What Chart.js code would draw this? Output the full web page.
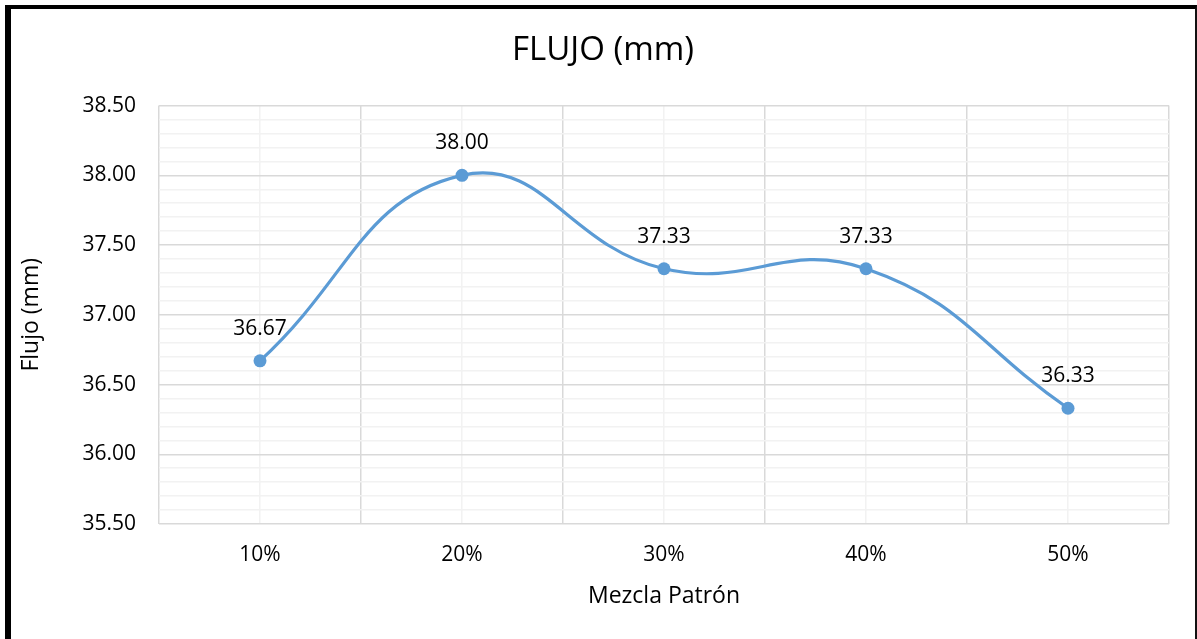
<!DOCTYPE html>
<html lang="es">
<head>
  <meta charset="UTF-8">
  <title>Flujo (mm)</title>
  <script src="https://cdn.jsdelivr.net/npm/chart.js@4.4.1/dist/chart.umd.min.js"></script>
  <style>
    html, body { margin: 0; padding: 0; background: #fff; }
    .wrap { position: relative; width: 1197px; height: 639px; overflow: hidden; }
    .frame {
      position: absolute; left: 5px; top: 5px; width: 1192px; height: 660px;
      box-sizing: border-box; pointer-events: none;
      border-left: 6px solid #000; border-top: 4px solid #000; border-right: 2px solid #111;
    }
  </style>
</head>
<body>
  <div class="wrap">
    <canvas id="flujo" width="1197" height="639"></canvas>
    <div class="frame"></div>
  </div>

<script>
const mezclas = ["10%", "20%", "30%", "40%", "50%"];
const flujo = [36.67, 38.00, 37.33, 37.33, 36.33];
const yMin = 35.5;
const yMax = 38.5;

const FONT = "'Open Sans', sans-serif";
const LINE = "#5b9bd5";

const isMajor = v => Math.abs(v * 2 - Math.round(v * 2)) < 1e-6;

// value labels above each point
const pointLabels = {
  id: "pointLabels",
  afterDatasetsDraw(chart) {
    const ctx = chart.ctx;
    const meta = chart.getDatasetMeta(0);
    ctx.save();
    ctx.font = "21px " + FONT;
    ctx.fillStyle = "#000";
    ctx.textAlign = "center";
    ctx.textBaseline = "middle";
    meta.data.forEach((pt, i) => {
      ctx.fillText(flujo[i].toFixed(2), pt.x, pt.y - 32);
    });
    ctx.restore();
  }
};

new Chart("flujo", {
  type: "line",
  data: {
    labels: mezclas,
    datasets: [{
      data: flujo,
      borderColor: LINE,
      backgroundColor: LINE,
      borderWidth: 3.2,
      pointRadius: 6.5,
      pointBorderWidth: 0,
      tension: 0.45,
      fill: false
    }]
  },
  options: {
    responsive: false,
    animation: false,
    layout: { padding: { left: 9, right: 0, top: 0, bottom: 0 } },
    plugins: {
      legend: { display: false },
      tooltip: { enabled: false },
      title: {
        display: true,
        text: "FLUJO (mm)",
        color: "#000",
        font: { family: FONT, size: 33, weight: "normal" },
        padding: { top: 31, bottom: 35 }
      }
    },
    scales: {
      x: {
        offset: true,
        afterFit: s => { s.height = 115; },
        grid: { offset: true, color: "#d9d9d9", lineWidth: 1.5, drawTicks: false },
        border: { display: false },
        ticks: { color: "#000", font: { family: FONT, size: 21 }, padding: 18 },
        title: {
          display: true,
          text: "Mezcla Patrón",
          color: "#000",
          font: { family: FONT, size: 23 },
          padding: { top: 0, bottom: 29 }
        }
      },
      // lighter lines through the category centres
      x2: {
        type: "category",
        labels: mezclas,
        offset: true,
        position: "bottom",
        afterFit: s => { s.height = 0; },
        grid: { offset: false, color: "#f2f2f2", lineWidth: 1.5, drawTicks: false, z: -1 },
        border: { display: false },
        ticks: { display: false }
      },
      y: {
        min: yMin,
        max: yMax,
        afterFit: s => { s.width = 150; },
        grid: {
          drawTicks: false,
          lineWidth: 1.5,
          color: c => isMajor(c.tick.value) ? "#d9d9d9" : "#f2f2f2"
        },
        border: { display: false },
        ticks: {
          stepSize: 0.1,
          autoSkip: false,
          padding: 23,
          color: "#000",
          font: { family: FONT, size: 21 },
          callback: v => isMajor(v) ? v.toFixed(2) : ""
        },
        title: {
          display: true,
          text: "Flujo (mm)",
          color: "#000",
          font: { family: FONT, size: 23 },
          padding: { top: 9, bottom: 0 }
        }
      },
      // empty right-hand strip so the title stays centred on the frame
      yRight: {
        type: "linear",
        position: "right",
        min: yMin,
        max: yMax,
        afterFit: s => { s.width = 28; },
        grid: { display: false },
        border: { display: false },
        ticks: { display: false }
      }
    }
  },
  plugins: [pointLabels]
});
</script>
</body>
</html>
